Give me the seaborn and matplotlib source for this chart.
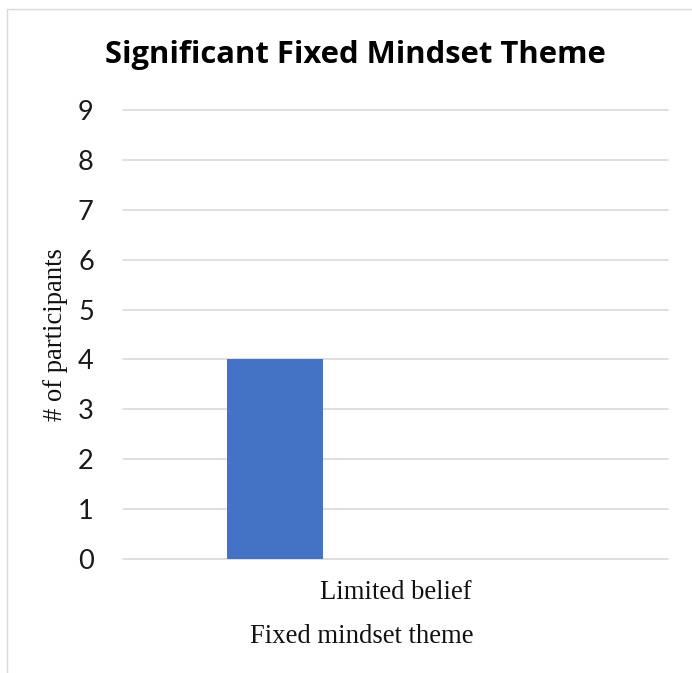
import matplotlib
matplotlib.use("Agg")
import matplotlib.pyplot as plt
import seaborn as sns
import pandas as pd
from matplotlib.patches import Rectangle

# Data
categories = ["Limited belief"]
participants = [4]
y_ticks = [0, 1, 2, 3, 4, 5, 6, 7, 8, 9]

title_text = "Significant Fixed Mindset Theme"
x_title = "Fixed mindset theme"
y_title = "# of participants"

df = pd.DataFrame({"theme": categories, "count": participants})

sns.set_theme(style="white")
plt.rcParams["font.family"] = ["Lato", "DejaVu Sans"]

W, H = 692, 673
fig = plt.figure(figsize=(W / 100, H / 100), dpi=100)
fig.patch.set_facecolor("white")

# Light chart-area frame
fig.patches.append(Rectangle((7 / W, -0.05), 1.2, 1 - 9 / H + 0.05,
                             transform=fig.transFigure, fill=False,
                             edgecolor="#D9D9D9", linewidth=1.0))

left, right = 123 / W, 668 / W
bottom, top = 1 - 559 / H, 1 - 110 / H
ax = fig.add_axes([left, bottom, right - left, top - bottom])

sns.barplot(data=df, x="theme", y="count", color="#4472C4",
            saturation=1, width=0.175, ax=ax, zorder=3)

# Place bar in the first slot of the category cluster
for p in ax.patches:
    p.set_x(-0.3083)
    p.set_linewidth(0)

ax.set_xlim(-0.5, 0.5)
ax.set_ylim(0, 9)
ax.set_yticks(y_ticks)
ax.set_yticklabels([str(t) for t in y_ticks], fontsize=19.5, color="#1a1a1a",
                   family=["Lato", "DejaVu Sans"])
ax.set_xticks([0])
ax.set_xticklabels(categories, fontsize=19.2, family=["Liberation Serif"],
                   color="#111111")
ax.tick_params(axis="y", length=0, pad=21)
ax.tick_params(axis="x", length=0, pad=15)

ax.grid(axis="y", color="#D9D9D9", linewidth=1.2, zorder=0)
ax.grid(axis="x", visible=False)
for gl in ax.get_ygridlines():
    gl.set_clip_on(False)
for s in ax.spines.values():
    s.set_visible(False)
ax.set_xlabel("")
ax.set_ylabel("")

fig.text(355 / W, 1 - 63 / H, title_text, ha="center", va="baseline",
         fontsize=22.3, fontweight="bold", color="#000000",
         family=["Open Sans", "DejaVu Sans"])
fig.text(362 / W, 1 - 643 / H, x_title, ha="center", va="baseline",
         fontsize=19.2, family=["Liberation Serif"], color="#111111")
fig.text(56 / W, (bottom + top) / 2, y_title, ha="center", va="center",
         rotation=90, fontsize=19.2, family=["Liberation Serif"],
         color="#111111")

fig.savefig("out.png", dpi=100, facecolor="white")
